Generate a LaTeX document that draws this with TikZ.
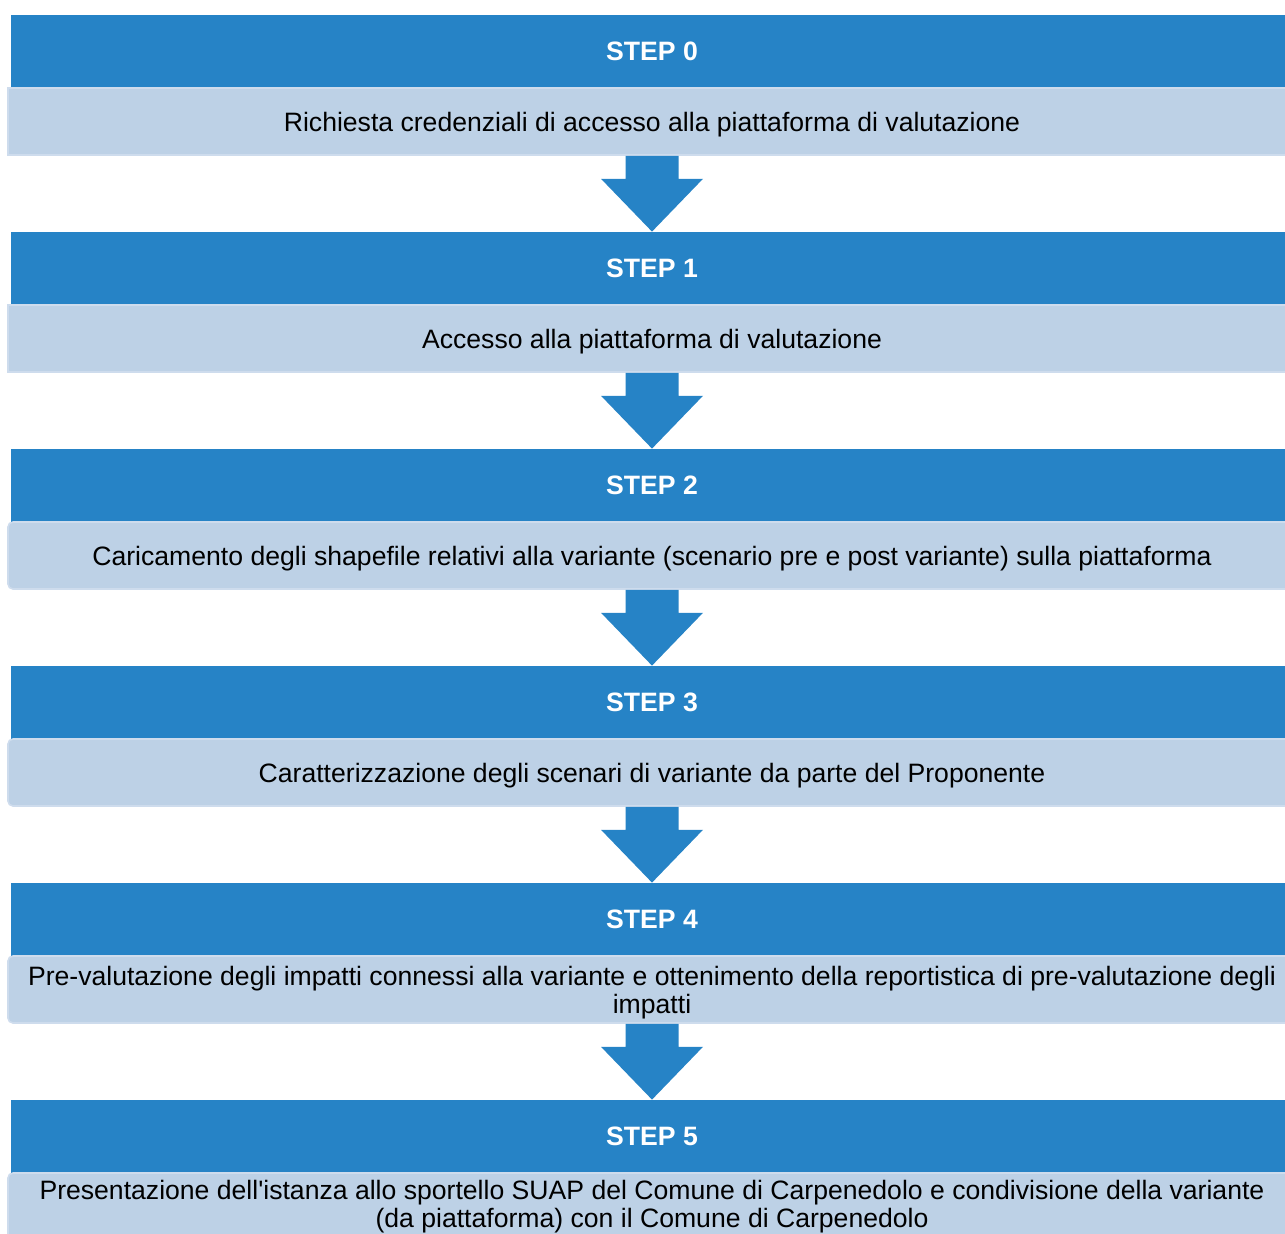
\documentclass[tikz,border=0pt]{standalone}
\usepackage{fontspec}
\setmainfont{Liberation Sans}
\usepackage{tikz}
\usetikzlibrary{calc}
\definecolor{stepblue}{RGB}{38,131,198}
\definecolor{stepfill}{RGB}{189,209,230}
\definecolor{stepedge}{RGB}{206,220,237}
\tikzset{
  stephead/.style={fill=stepblue, text=white, font=\bfseries\fontsize{13.3}{14}\selectfont,
    minimum width=641pt, minimum height=36.5pt, inner sep=0pt},
  stepbox/.style={fill=stepfill, draw=stepedge, line width=0.8pt, font=\fontsize{13.3}{14}\selectfont,
    minimum width=644pt, minimum height=33.5pt, inner sep=0pt, align=center,
    execute at begin node={\rule{0pt}{12.7pt}}},
  roundbox/.style={stepbox, rounded corners=2.5pt}
}
% downward block arrow from a text box to the next header
\newcommand{\steparrow}[2]{%
  \fill[stepblue] ($(#1.south)+(-26.5,0)$) -- ++(0,23) -- ++(-24.5,0) -- (#2.north)
    -- ($(#1.south)+(51,23)$) -- ++(-24.5,0) -- ($(#1.south)+(26.5,0)$) -- cycle;}

\begin{document}
\begin{tikzpicture}[x=0.5pt, y=-0.5pt]
    \useasboundingbox (0,0) rectangle (1285,1233);
    \clip (0,0) rectangle (1285,1233);
    \node[stephead] (h0) at (652,51.5) {STEP 0};
    \node[stepbox] (b0) at (652,121.5) {Richiesta credenziali di accesso alla piattaforma di valutazione};
    \node[stephead] (h1) at (652,268.5) {STEP 1};
    \node[stepbox] (b1) at (652,338.5) {Accesso alla piattaforma di valutazione};
    \node[stephead] (h2) at (652,485.5) {STEP 2};
    \node[roundbox] (b2) at (652,555.5) {Caricamento degli shapefile relativi alla variante (scenario pre e post variante) sulla piattaforma};
    \node[stephead] (h3) at (652,702.5) {STEP 3};
    \node[roundbox] (b3) at (652,772.5) {Caratterizzazione degli scenari di variante da parte del Proponente};
    \node[stephead] (h4) at (652,919.5) {STEP 4};
    \node[roundbox] (b4) at (652,989.5) {\rule{0pt}{12.7pt}Pre-valutazione degli impatti connessi alla variante e ottenimento della reportistica di pre-valutazione degli\\impatti};
    \node[stephead] (h5) at (652,1136.5) {STEP 5};
    \node[roundbox] (b5) at (652,1206.5) {Presentazione dell\textquotesingle istanza allo sportello SUAP del Comune di Carpenedolo e condivisione della variante\\(da piattaforma) con il Comune di Carpenedolo};
    \steparrow{b0}{h1}
    \steparrow{b1}{h2}
    \steparrow{b2}{h3}
    \steparrow{b3}{h4}
    \steparrow{b4}{h5}
\end{tikzpicture}
\end{document}
